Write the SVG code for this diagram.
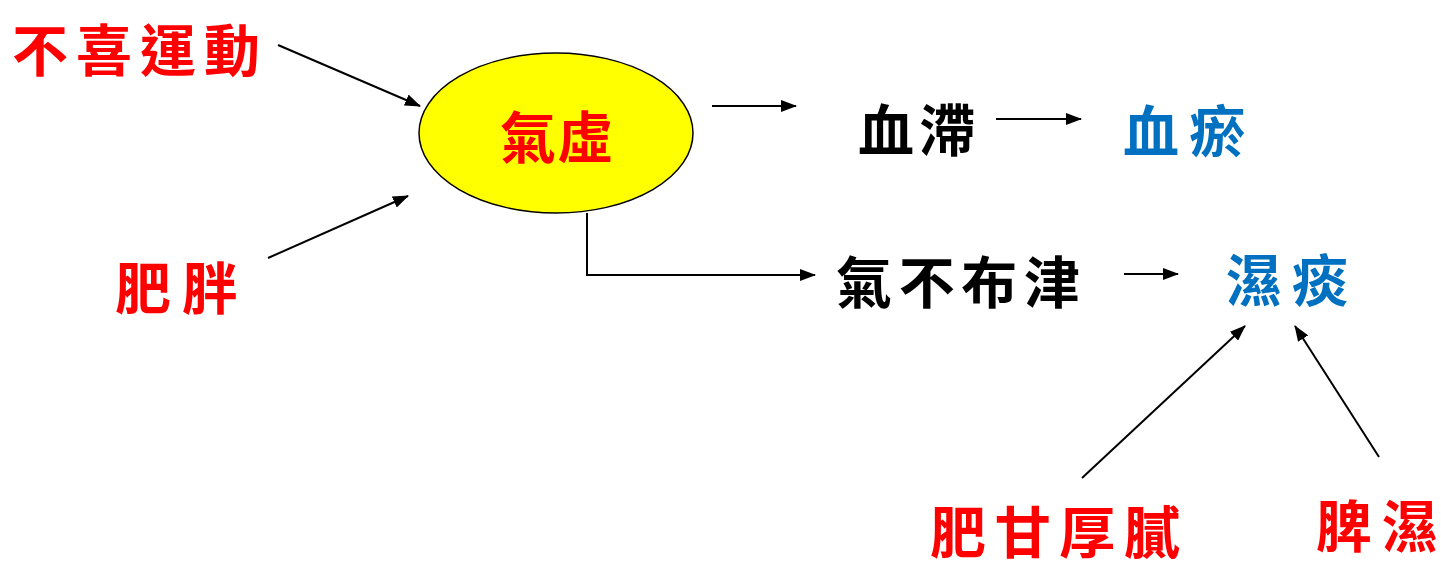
<svg xmlns="http://www.w3.org/2000/svg" width="1441" height="566" viewBox="0 0 1441 566">
<style>
.t{font-family:"Noto Sans CJK TC","Noto Sans CJK SC",sans-serif;font-weight:bold;font-size:56px;dominant-baseline:central}
.red{fill:#FF0000}
.blk{fill:#000000}
.blu{fill:#0070C0}
.c{fill:none;stroke:#000;stroke-width:2;marker-end:url(#ah)}
</style>
<defs>
<marker id="ah" viewBox="0 0 16 12" refX="15" refY="6" markerWidth="16" markerHeight="12" markerUnits="userSpaceOnUse" orient="auto">
<path d="M0,0 L16,6 L0,12 Z" fill="#000"/>
</marker>
</defs>
<rect width="1441" height="566" fill="#fff"/>
<g id="connectors">
<line class="c" x1="278" y1="45" x2="420" y2="106"/>
<line class="c" x1="268" y1="258" x2="408" y2="196"/>
<line class="c" x1="712" y1="106" x2="796" y2="106"/>
<line class="c" x1="996" y1="119" x2="1081" y2="119"/>
<polyline class="c" points="587,213 587,275 815,275"/>
<line class="c" x1="1124" y1="274" x2="1178" y2="274"/>
<line class="c" x1="1082" y1="478" x2="1245" y2="326"/>
<line class="c" x1="1379" y1="457" x2="1295" y2="326"/>
</g>
<g id="node-qixu">
<ellipse cx="556" cy="133" rx="137" ry="80" fill="#FFFF00" stroke="#000" stroke-width="1.5"/>
<text class="t red" x="500" y="133" textLength="113" lengthAdjust="spacing">氣虛</text>
</g>
<g id="node-buxiyundong"><text class="t red" x="12" y="46" textLength="248" lengthAdjust="spacing">不喜運動</text></g>
<g id="node-feipang"><text class="t red" x="115" y="284" textLength="123" lengthAdjust="spacing">肥胖</text></g>
<g id="node-xuezhi"><text class="t blk" x="858" y="126" textLength="117" lengthAdjust="spacing">血滯</text></g>
<g id="node-xueyu"><text class="t blu" x="1123" y="127" textLength="122" lengthAdjust="spacing">血瘀</text></g>
<g id="node-qibubujin"><text class="t blk" x="836" y="278" textLength="244" lengthAdjust="spacing">氣不布津</text></g>
<g id="node-shitan"><text class="t blu" x="1226" y="276" textLength="122" lengthAdjust="spacing">濕痰</text></g>
<g id="node-feiganhouni"><text class="t red" x="930" y="528" textLength="250" lengthAdjust="spacing">肥甘厚膩</text></g>
<g id="node-pishi"><text class="t red" x="1316" y="522" textLength="122" lengthAdjust="spacing">脾濕</text></g>
</svg>
